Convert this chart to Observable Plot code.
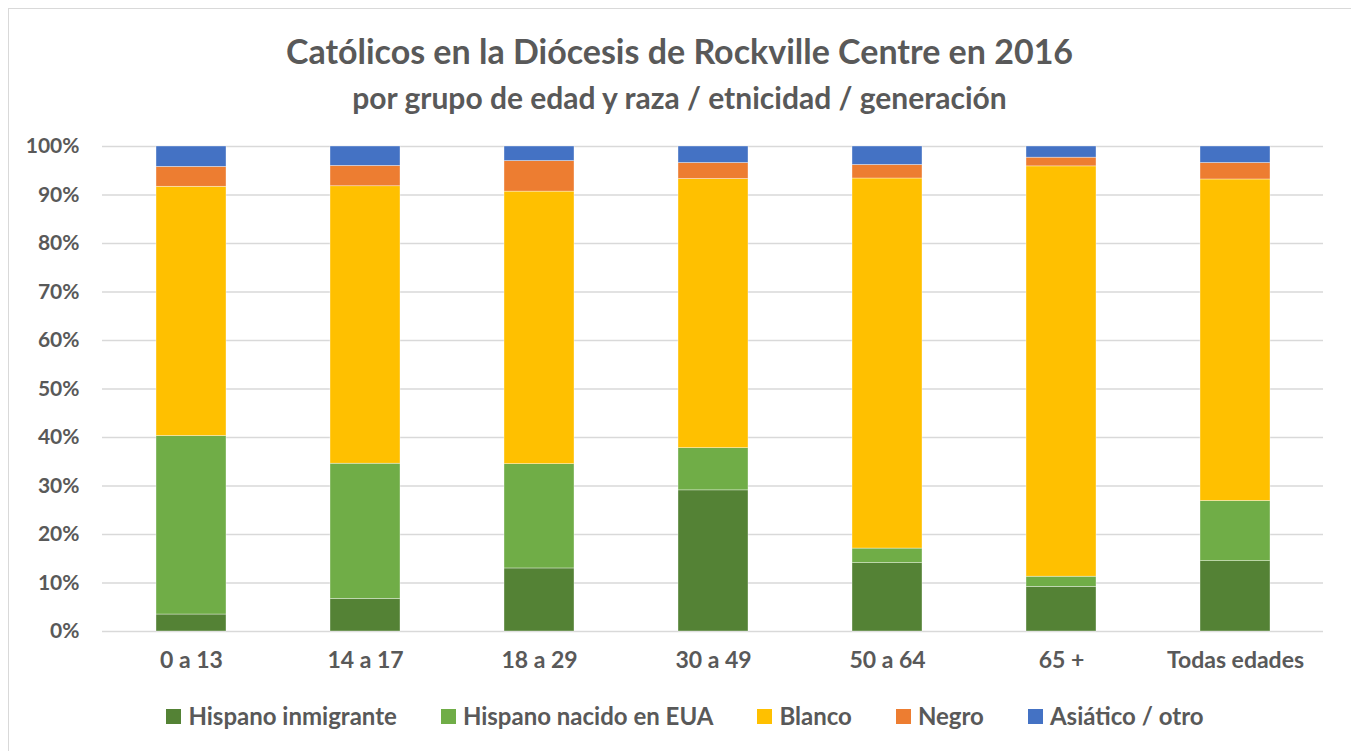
<!DOCTYPE html>
<html>
<head>
<meta charset="utf-8">
<script src="https://cdn.jsdelivr.net/npm/d3@7"></script>
<script src="https://cdn.jsdelivr.net/npm/@observablehq/plot@0.6"></script>
<style>
  body { margin: 0; background: #fff; width: 1351px; height: 751px; overflow: hidden; position: relative; font-family: Lato, "Open Sans", sans-serif; }
  #frame { position: absolute; left: 8px; top: 8px; width: 1400px; height: 800px; border-left: 1.5px solid #d9d9d9; border-top: 1.5px solid #d9d9d9; }
  .ttl { position: absolute; left: 0; width: 1359px; text-align: center; color: #595959; font-weight: bold; white-space: nowrap; line-height: 1.2; }
  #title { top: 31px; font-size: 34px; }
  #subtitle { top: 79px; font-size: 30px; }
  #chart { position: absolute; left: 0; top: 120px; }
  #legend { position: absolute; top: 702px; left: 0; width: 1370px; display: flex; justify-content: center; color: #595959; font-weight: bold; font-size: 24px; line-height: 1.2; }
  .item { display: flex; align-items: center; margin: 0 22px; white-space: nowrap; }
  .sw { width: 15px; height: 15px; margin-right: 7px; }
</style>
</head>
<body>
<div id="frame"></div>
<div id="title" class="ttl">Católicos en la Diócesis de Rockville Centre en 2016</div>
<div id="subtitle" class="ttl">por grupo de edad y raza / etnicidad / generación</div>
<div id="chart"></div>
<div id="legend"></div>
<script>
const categories = ["0 a 13", "14 a 17", "18 a 29", "30 a 49", "50 a 64", "65 +", "Todas edades"];
const series = ["Hispano inmigrante", "Hispano nacido en EUA", "Blanco", "Negro", "Asiático / otro"];
const colors = ["#548235", "#70AD47", "#FFC000", "#ED7D31", "#4472C4"];
const hispanoInmigrante = [3.5, 6.7, 13.0, 29.1, 14.1, 9.2, 14.5];
const hispanoNacido     = [36.8, 27.9, 21.5, 8.7, 3.0, 2.1, 12.4];
const blanco            = [51.4, 57.2, 56.2, 55.5, 76.3, 84.6, 66.3];
const negro             = [4.1, 4.2, 6.3, 3.3, 2.8, 1.8, 3.4];
const asiatico          = [4.2, 4.0, 3.0, 3.4, 3.8, 2.3, 3.4];
const yTicks = [0, 0.1, 0.2, 0.3, 0.4, 0.5, 0.6, 0.7, 0.8, 0.9, 1.0];

const seriesValues = [hispanoInmigrante, hispanoNacido, blanco, negro, asiatico];
const data = [];
series.forEach((s, si) => {
  categories.forEach((c, ci) => {
    data.push({category: c, series: s, value: seriesValues[si][ci] / 100});
  });
});

const chart = Plot.plot({
  width: 1351,
  height: 560,
  marginLeft: 102,
  marginRight: 28,
  marginTop: 26,
  marginBottom: 49,
  style: {fontFamily: "Lato, sans-serif", fontWeight: "bold", color: "#595959", background: "transparent", overflow: "visible"},
  x: {domain: categories, paddingInner: 0.6, paddingOuter: 0.3, label: null},
  y: {domain: [0, 1], label: null},
  color: {domain: series, range: colors},
  marks: [
    Plot.gridY(yTicks, {stroke: "#d9d9d9", strokeOpacity: 1, strokeWidth: 1.3}),
    Plot.barY(data, {x: "category", y: "value", fill: "series", order: series, stroke: "#ffffff", strokeWidth: 0.6, strokeOpacity: 0.6}),
    Plot.axisY(yTicks, {tickFormat: d3.format(".0%"), tickSize: 0, tickPadding: 23, fontSize: 21, label: null}),
    Plot.axisX({tickSize: 0, tickPadding: 20, fontSize: 23, label: null})
  ]
});
document.getElementById("chart").appendChild(chart);

const legend = document.getElementById("legend");
series.forEach((s, i) => {
  const item = document.createElement("div");
  item.className = "item";
  const sw = document.createElement("div");
  sw.className = "sw";
  sw.style.background = colors[i];
  const t = document.createElement("span");
  t.textContent = s;
  item.appendChild(sw);
  item.appendChild(t);
  legend.appendChild(item);
});
</script>
</body>
</html>
